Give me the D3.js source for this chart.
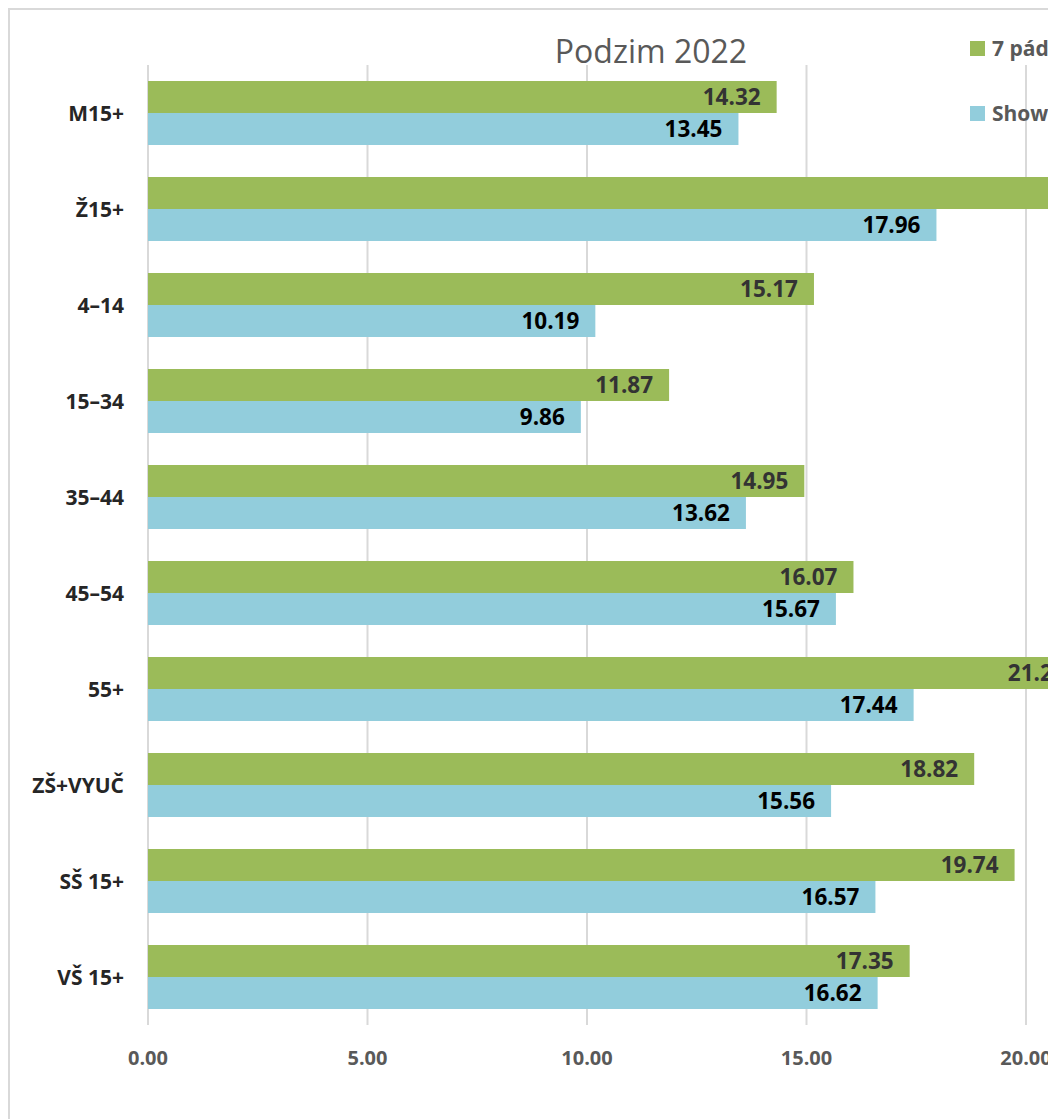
<!DOCTYPE html>
<html>
<head>
<meta charset="utf-8">
<script src="https://cdn.jsdelivr.net/npm/d3@7"></script>
<style>
  body { margin: 0; background: #fff; overflow: hidden; }
  #chart { width: 1057px; height: 1119px; overflow: hidden; }
</style>
</head>
<body>
<div id="chart"></div>
<script>
var categories = ["M15+", "Ž15+", "4–14", "15–34", "35–44", "45–54", "55+", "ZŠ+VYUČ", "SŠ 15+", "VŠ 15+"];
var seriesNames = ["7 pádů Honzy Dědka", "Show Jana Krause"];
var padu = [14.32, 22.35, 15.17, 11.87, 14.95, 16.07, 21.27, 18.82, 19.74, 17.35];
var show = [13.45, 17.96, 10.19, 9.86, 13.62, 15.67, 17.44, 15.56, 16.57, 16.62];
var ticks = [0, 5, 10, 15, 20, 25];

var width = 1057, height = 1119;
var margin = {top: 65, left: 148, bottom: 94};
var colors = ["#9bbb59", "#92cddc"];

var root = d3.select("#chart").append("svg")
  .attr("width", width)
  .attr("height", height)
  .style("font-family", "'Open Sans', 'Noto Sans', sans-serif");

// the source picture is cut off a little before the right edge
root.append("defs").append("clipPath")
  .attr("id", "cut")
  .append("rect")
  .attr("x", 0).attr("y", 0)
  .attr("width", 1048).attr("height", height);

var svg = root.append("g").attr("clip-path", "url(#cut)");

// chart frame (runs off the right/bottom edges like the source)
svg.append("rect")
  .attr("x", 9).attr("y", 9)
  .attr("width", 1400).attr("height", 1300)
  .attr("fill", "#fff")
  .attr("stroke", "#d9d9d9")
  .attr("stroke-width", 2);

var x = d3.scaleLinear()
  .domain([0, 5])
  .range([margin.left, 367.5]);

var y = d3.scaleBand()
  .domain(categories)
  .range([margin.top, height - margin.bottom])
  .paddingInner(1 / 3)
  .paddingOuter(1 / 6);

var ySub = d3.scaleBand()
  .domain([0, 1])
  .range([0, y.bandwidth()]);

// gridlines
svg.append("g").selectAll("line")
  .data(ticks)
  .enter().append("line")
  .attr("x1", function(d) { return x(d); })
  .attr("x2", function(d) { return x(d); })
  .attr("y1", margin.top)
  .attr("y2", height - margin.bottom)
  .attr("stroke", "#d9d9d9")
  .attr("stroke-width", 2);

// tick labels
svg.append("g").selectAll("text")
  .data(ticks)
  .enter().append("text")
  .attr("x", function(d) { return x(d); })
  .attr("y", 1065)
  .attr("text-anchor", "middle")
  .style("font-weight", "bold")
  .style("font-size", "20px")
  .style("fill", "#595959")
  .text(function(d) { return d.toFixed(2); });

// category labels
svg.append("g").selectAll("text")
  .data(categories)
  .enter().append("text")
  .attr("x", 124)
  .attr("y", function(d) { return y(d) + y.bandwidth() / 2; })
  .attr("dy", "0.36em")
  .attr("text-anchor", "end")
  .style("font-weight", "bold")
  .style("font-size", "21px")
  .style("fill", "#262626")
  .text(function(d) { return d; });

var series = [padu, show];
var labelColors = ["#333333", "#000000"];

series.forEach(function(vals, s) {
  var g = svg.append("g");
  g.selectAll("rect")
    .data(vals)
    .enter().append("rect")
    .attr("x", x(0))
    .attr("y", function(d, i) { return y(categories[i]) + ySub(s); })
    .attr("width", function(d) { return x(d) - x(0); })
    .attr("height", ySub.bandwidth())
    .attr("fill", colors[s]);

  g.selectAll("text")
    .data(vals)
    .enter().append("text")
    .attr("x", function(d) { return x(d) - 16; })
    .attr("y", function(d, i) { return y(categories[i]) + ySub(s) + ySub.bandwidth() / 2; })
    .attr("dy", "0.36em")
    .attr("text-anchor", "end")
    .style("font-weight", "bold")
    .style("font-size", "22.5px")
    .style("fill", labelColors[s])
    .text(function(d) { return d.toFixed(2); });
});

// title
svg.append("text")
  .attr("x", 651)
  .attr("y", 63)
  .attr("text-anchor", "middle")
  .style("font-size", "32px")
  .style("fill", "#595959")
  .text("Podzim 2022");

// legend
var legend = svg.append("g").selectAll("g")
  .data(seriesNames)
  .enter().append("g")
  .attr("transform", function(d, i) { return "translate(970," + (41 + i * 65) + ")"; });

legend.append("rect")
  .attr("width", 15).attr("height", 15)
  .attr("fill", function(d, i) { return colors[i]; });

legend.append("text")
  .attr("x", 22)
  .attr("y", 15)
  .style("font-weight", "bold")
  .style("font-size", "21px")
  .style("fill", "#595959")
  .text(function(d) { return d; });
</script>
</body>
</html>
